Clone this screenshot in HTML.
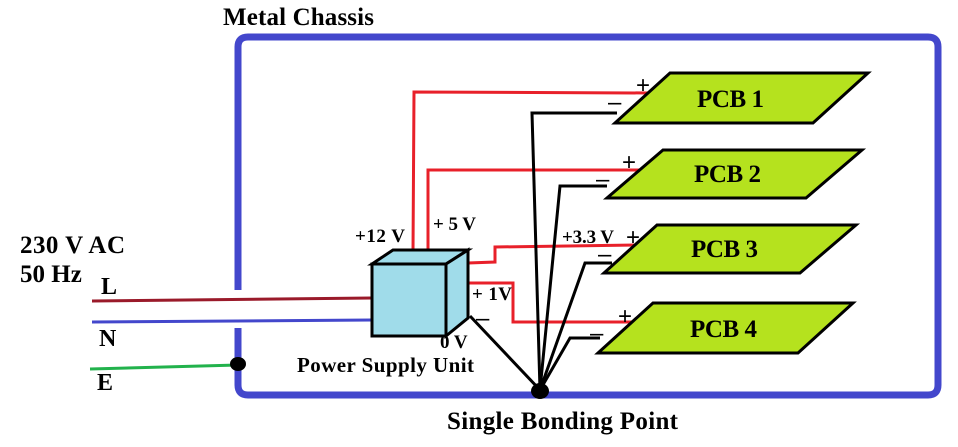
<!DOCTYPE html>
<html><head><meta charset="utf-8"><style>
html,body{margin:0;padding:0;background:#fff;}
svg{display:block;}
text{font-family:"Liberation Serif",serif;font-weight:bold;fill:#000;}
.s{font-family:"Liberation Sans",sans-serif;font-weight:normal;font-size:24px;}
</style></head><body>
<svg width="958" height="447" viewBox="0 0 958 447" xmlns="http://www.w3.org/2000/svg">
<path d="M238,290 L238,47 Q238,37 248,37 L928,37 Q938,37 938,47 L938,385 Q938,395 928,395 L248,395 Q238,395 238,385 L238,328" fill="none" stroke="#4347cc" stroke-width="7"/>
<text x="223" y="25" font-size="25" textLength="151">Metal Chassis</text>

<line x1="92" y1="301" x2="372" y2="298" stroke="#9a1a2a" stroke-width="3"/>
<line x1="92" y1="322" x2="372" y2="320" stroke="#4347cc" stroke-width="3"/>
<line x1="90" y1="369" x2="238" y2="365" stroke="#22b24c" stroke-width="3"/>
<ellipse cx="238" cy="364" rx="8" ry="7" fill="#000"/>
<text x="20" y="253" font-size="25" textLength="105">230 V AC</text>
<text x="20" y="282" font-size="25">50 Hz</text>
<text x="101" y="294" font-size="24">L</text>
<text x="99" y="346" font-size="24">N</text>
<text x="97" y="390" font-size="24">E</text>

<g fill="none" stroke="#e8202a" stroke-width="3">
<polyline points="413,252 414,92 650,93"/>
<polyline points="428,252 428,170 641,170"/>
<polyline points="468,263 495,262 495,247 636,245"/>
<polyline points="468,283 513,283 513,322 634,322"/>
</g>
<g fill="none" stroke="#000" stroke-width="3">
<polyline points="540,390 532,113 617,113"/>
<polyline points="540,390 560,186 607,186"/>
<polyline points="540,390 585,263 612,263"/>
<polyline points="540,390 570,338 600,338"/>
<line x1="470" y1="316" x2="540" y2="390"/>
</g>
<ellipse cx="540" cy="391" rx="9" ry="8" fill="#000"/>

<g stroke="#000" stroke-width="3" fill="#a0dcea">
<polygon points="372,264 393,250 468,250 446,264"/>
<polygon points="446,264 468,250 468,318 446,336"/>
<rect x="372" y="264" width="74" height="72"/>
</g>

<g stroke="#000" stroke-width="3" fill="#b5e21e">
<polygon points="670,73 868,73 813,123 615,123"/>
<polygon points="663,150 862,150 806,198 607,198"/>
<polygon points="657,225 856,225 800,273 604,273"/>
<polygon points="653,303 853,303 798,353 598,353"/>
</g>
<g font-size="25">
<text x="697" y="107" textLength="67">PCB 1</text>
<text x="694" y="182" textLength="67">PCB 2</text>
<text x="691" y="257" textLength="67">PCB 3</text>
<text x="690" y="337" textLength="67">PCB 4</text>
</g>
<text class="s" x="636" y="93">+</text>
<text class="s" x="608" y="110">–</text>
<text class="s" x="622" y="170">+</text>
<text class="s" x="596" y="187">–</text>
<text class="s" x="626" y="245">+</text>
<text class="s" x="598" y="262">–</text>
<text class="s" x="618" y="324">+</text>
<text class="s" x="590" y="341">–</text>
<text class="s" x="476" y="326">–</text>

<g font-size="19">
<text x="355" y="242" textLength="50">+12 V</text>
<text x="433" y="230" textLength="43">+ 5 V</text>
<text x="562" y="243" textLength="52">+3.3 V</text>
<text x="472" y="300" textLength="40">+ 1V</text>
<text x="440" y="348">0 V</text>
</g>
<text x="297" y="372" font-size="21" textLength="177">Power Supply Unit</text>
<text x="447" y="429" font-size="25" textLength="231">Single Bonding Point</text>
</svg>
</body></html>
